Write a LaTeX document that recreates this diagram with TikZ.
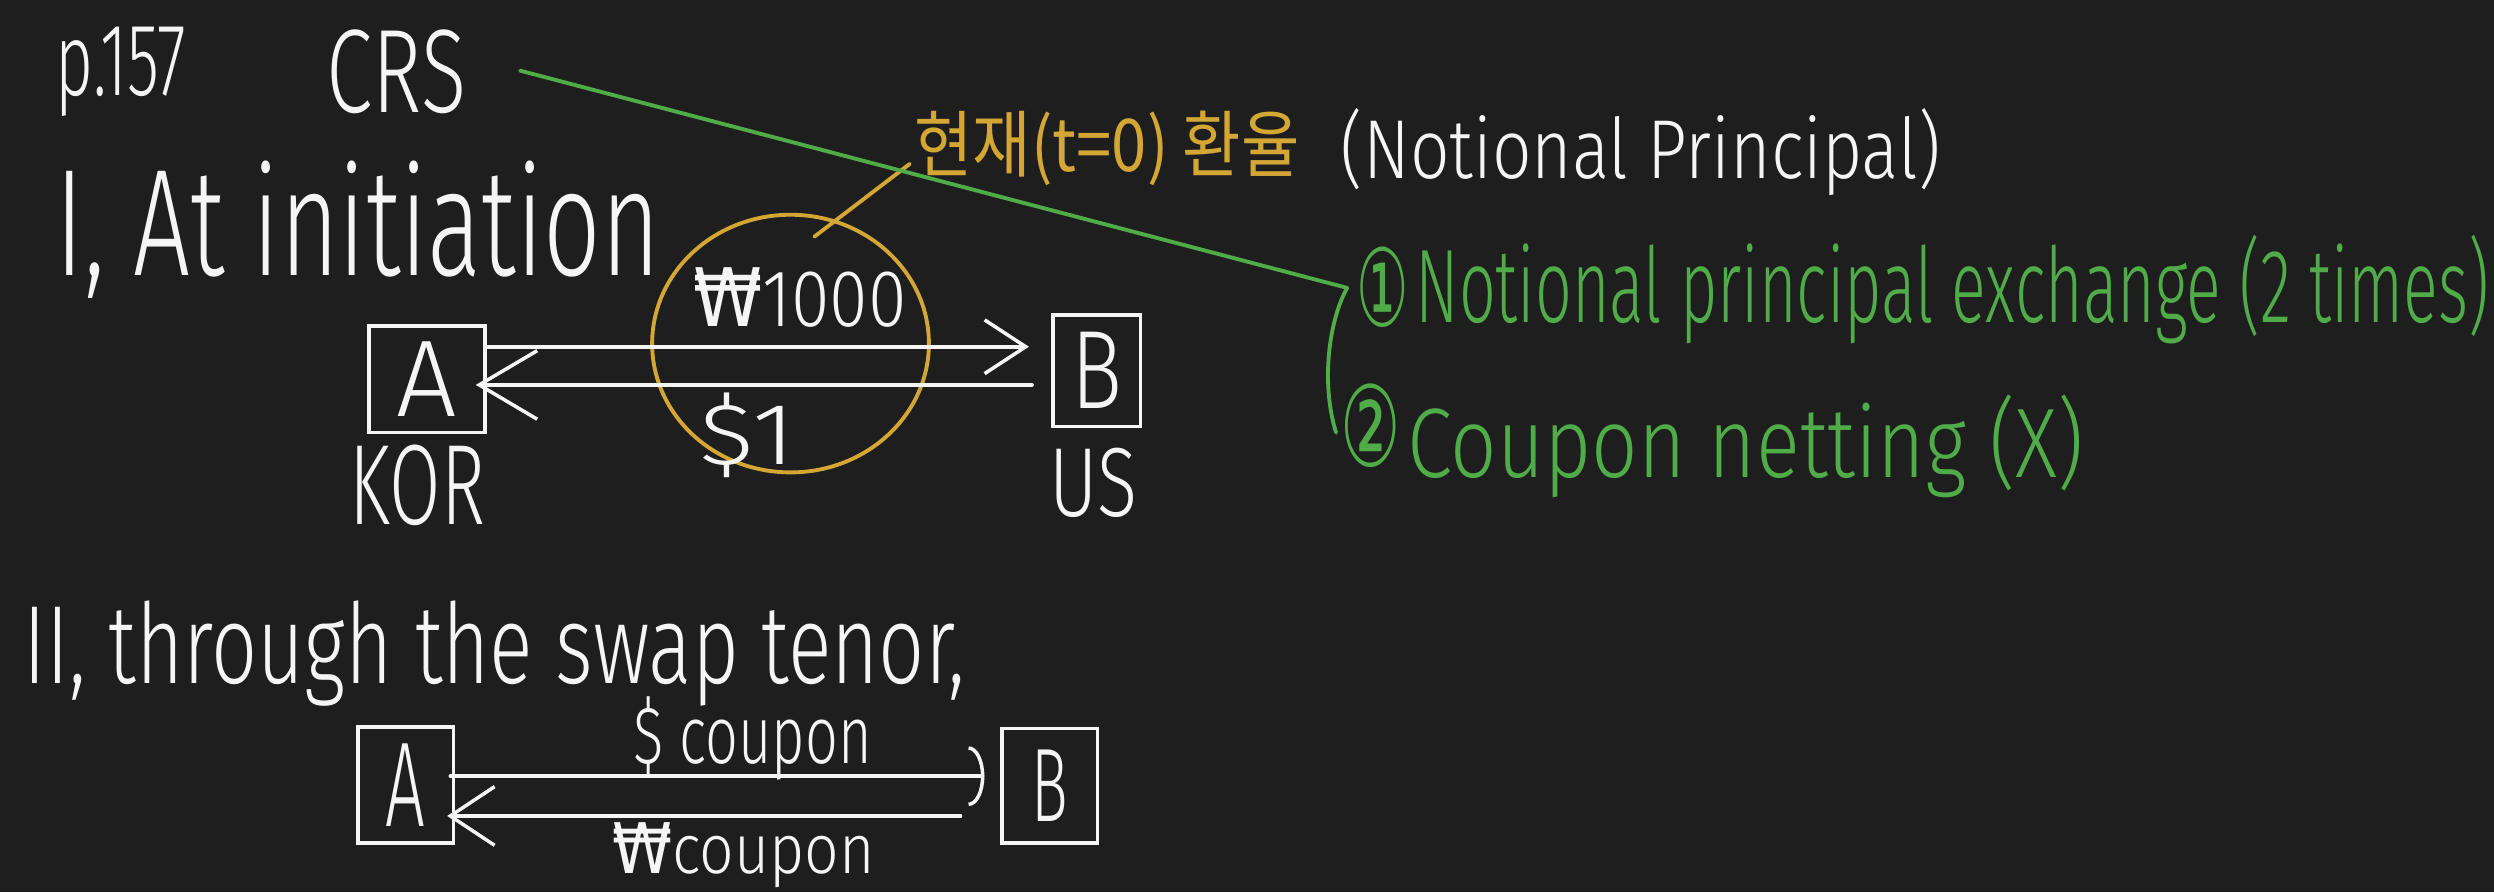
\documentclass[tikz,border=0pt]{standalone}
\usepackage{fontspec}
\setmainfont{Fira Sans Light}
\newfontfamily\dv{DejaVu Sans}
\newfontfamily\krfont{Noto Sans CJK KR}
\usetikzlibrary{arrows.meta,calc,shapes.geometric}
\newlength\upx \setlength\upx{0.15906mm}
\definecolor{bg}{RGB}{30,30,30}
\definecolor{gold}{RGB}{212,166,52}
\definecolor{grn}{RGB}{80,172,72}
\definecolor{chalk}{RGB}{245,245,245}
\newcommand\fitt[3]{\resizebox{#1\upx}{#2\upx}{#3}}
\begin{document}
\begin{tikzpicture}[x=0.15906mm,y=-0.15906mm,
  lbl/.style={anchor=base west,inner sep=0pt,outer sep=0pt,text=chalk},
  box/.style={draw=chalk,line width=1pt,rectangle,inner sep=0pt,text=chalk},
  wline/.style={draw=chalk,line width=1pt,line cap=round},
  gline/.style={draw=grn,line width=1.1pt,line cap=round},
  oline/.style={draw=gold,line width=1.1pt,line cap=round}]
\fill[bg] (0,0) rectangle (1568,561);
\useasboundingbox (0,0) rectangle (1568,561);

% headings
\node[lbl] (p157) at (35,60) {\fitt{82}{43}{p.157}};
\node[lbl] (crs) at (205,71) {\fitt{88}{52}{CRS}};
\node[lbl] (sec1) at (35,173) {\fitt{380}{72}{I, At initiation}};
\node[lbl,text=gold] (kr) at (575,108) {\fitt{242}{38}{\krfont 현재(t=0) 환율}};
\node[lbl] (np) at (843,112) {\fitt{377}{44}{(Notional Principal)}};

% section I
\node[draw=gold,line width=1.1pt,ellipse,minimum width=174\upx,minimum height=162\upx,inner sep=0pt] (ell) at (497,216) {};
\node[lbl] (w1000) at (436,205) {\fitt{134}{37}{{\dv ₩}1000}};
\node[lbl] (d1) at (440,292) {\fitt{60}{45}{\$1}};
\node[box,minimum width=73\upx,minimum height=67\upx] (A1) at (268.5,238.5) {\fitt{38}{47}{A}};
\node[box,minimum width=55\upx,minimum height=70\upx] (B1) at (689.5,233) {\fitt{32}{48}{B}};
\node[lbl] (kor) at (220,330) {\fitt{85}{50}{KOR}};
\node[lbl] (us) at (660,325) {\fitt{55}{43}{US}};

\draw[wline,-{Straight Barb[length=11.7pt,width=15.3pt]},shorten >=14\upx]
  ([yshift=20.5\upx]A1.east) -- ([yshift=20.5\upx]A1.east -| B1.west);
\draw[wline,{Straight Barb[length=16.5pt,width=19.5pt]}-,shorten >=12\upx,shorten <=-7\upx]
  ([yshift=-3.5\upx]A1.east) -- ([yshift=-3.5\upx]A1.east -| B1.west);

\draw[oline] ([shift={(15,15)}]ell.north) -- ([shift={(-3,-5)}]kr.base west);

% green notes
\coordinate (br) at (847,181);
\draw[gline] ([shift={(34,-1)}]crs.east) -- (br);
\draw[gline] (br) .. controls (836,200) and (830,240) .. (840,272);
\node[lbl,text=grn] (c1) at (853,205) {\fitt{33}{50}{\dv ①}};
\node[lbl,text=grn] (n1) at (890,203) {\fitt{675}{55}{Notional principal exchange (2 times)}};
\node[lbl,text=grn] (c2) at (843,293) {\fitt{38}{52}{\dv ②}};
\node[lbl,text=grn] (n2) at (885,300) {\fitt{425}{52}{Coupon netting (X)}};

% section II
\node[lbl] (sec2) at (15,430) {\fitt{592}{52}{II, through the swap tenor,}};
\node[box,minimum width=60\upx,minimum height=73\upx] (A2) at (255,493.5) {\fitt{25}{52}{A}};
\node[box,minimum width=60\upx,minimum height=72\upx] (B2) at (660,494) {\fitt{23}{45}{B}};
\node[lbl] (dc) at (398,480) {\fitt{150}{42}{\$ coupon}};
\node[lbl] (wc) at (385,549) {\fitt{165}{32}{{\dv ₩}coupon}};

\draw[wline,-{Arc Barb[length=4.5pt,width=17pt]},shorten >=10\upx,shorten <=-3\upx]
  ([yshift=5.5\upx]A2.east) -- ([yshift=5.5\upx]A2.east -| B2.west);
\draw[wline,{Straight Barb[length=12.6pt,width=16.7pt]}-,shorten >=25\upx,shorten <=-5\upx]
  ([yshift=-19.5\upx]A2.east) -- ([yshift=-19.5\upx]A2.east -| B2.west);
\end{tikzpicture}
\end{document}
